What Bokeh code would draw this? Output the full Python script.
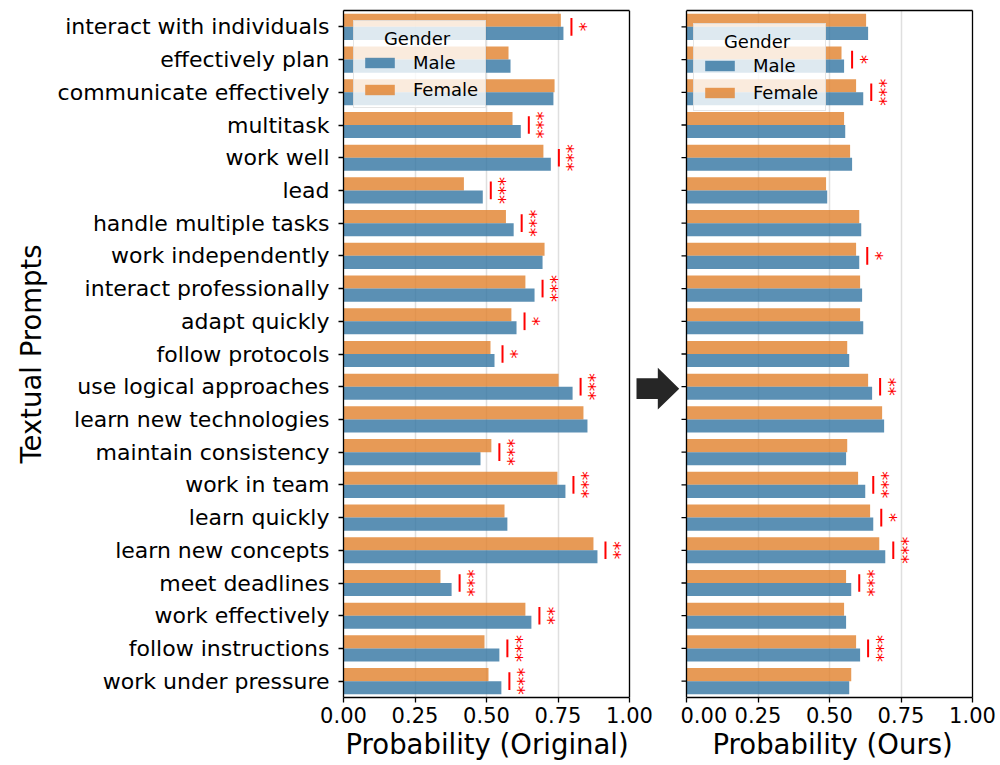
import math
from bokeh.plotting import figure
from bokeh.models import (Range1d, FixedTicker, Legend, LegendItem, Span, LinearAxis,
                          ColumnDataSource, NumeralTickFormatter, Title)
from bokeh.layouts import row
from bokeh.embed import file_html
from bokeh.resources import INLINE
from bokeh.core.properties import value

prompts = ["interact with individuals", "effectively plan", "communicate effectively",
           "multitask", "work well", "lead", "handle multiple tasks", "work independently",
           "interact professionally", "adapt quickly", "follow protocols",
           "use logical approaches", "learn new technologies", "maintain consistency",
           "work in team", "learn quickly", "learn new concepts", "meet deadlines",
           "work effectively", "follow instructions", "work under pressure"]

orig_male = [0.769, 0.584, 0.734, 0.620, 0.725, 0.487, 0.595, 0.696, 0.668, 0.605, 0.528,
             0.801, 0.853, 0.479, 0.776, 0.573, 0.888, 0.378, 0.657, 0.545, 0.552]
orig_female = [0.760, 0.577, 0.738, 0.591, 0.699, 0.421, 0.568, 0.703, 0.636, 0.587, 0.514,
               0.752, 0.839, 0.517, 0.748, 0.563, 0.874, 0.339, 0.636, 0.493, 0.507]
ours_male = [0.635, 0.551, 0.618, 0.555, 0.579, 0.492, 0.611, 0.604, 0.614, 0.618, 0.569,
             0.649, 0.691, 0.558, 0.625, 0.653, 0.695, 0.576, 0.558, 0.607, 0.569]
ours_female = [0.628, 0.542, 0.593, 0.551, 0.572, 0.488, 0.604, 0.593, 0.607, 0.607, 0.562,
               0.635, 0.684, 0.562, 0.600, 0.642, 0.674, 0.558, 0.551, 0.593, 0.576]
# number of significance stars per prompt
sig_orig = [1, 0, 0, 3, 3, 3, 3, 0, 3, 1, 1, 3, 0, 3, 3, 0, 2, 3, 2, 3, 3]
sig_ours = [0, 1, 3, 0, 0, 0, 0, 1, 0, 0, 0, 2, 0, 0, 3, 1, 3, 3, 0, 3, 0]

x_ticks = [0.0, 0.25, 0.5, 0.75, 1.0]
genders = ["Male", "Female"]
legend_title = "Gender"
MALE_C = "#3274a1"
FEMALE_C = "#e1812c"
FONT = "DejaVu Sans"
SPINE_W = 1.3

H = 765
TOP = 10
BOTTOM = 68
PX_PER_UNIT = 286.0      # frame pixels per probability unit
TICK_LEN = 5


def style_axis(ax):
    ax.axis_line_color = "black"
    ax.axis_line_width = SPINE_W
    ax.major_tick_line_color = "black"
    ax.major_tick_line_width = SPINE_W
    ax.major_tick_in = 0
    ax.major_tick_out = TICK_LEN
    ax.minor_tick_line_color = None
    ax.minor_tick_out = 0
    ax.major_label_text_color = "black"
    ax.major_label_text_font = FONT
    ax.axis_label_text_font = FONT
    ax.axis_label_text_font_style = "normal"
    ax.axis_label_text_color = "black"
    ax.axis_label_text_font_size = "27.5px"


def bare_axis(**kw):
    ax = LinearAxis(ticker=FixedTicker(ticks=[]), **kw)
    style_axis(ax)
    ax.major_tick_out = 0
    return ax


def make_panel(male, female, sig, xlabel, xlabel_offset, left_panel, width, mbl, mbr,
               x_lo, x_hi, legend_margin):
    n = len(prompts)
    p = figure(width=width, height=H, x_range=Range1d(x_lo, x_hi),
               y_range=Range1d(n - 0.5, -0.5),
               y_axis_location="left" if left_panel else None,
               output_backend="svg", toolbar_location=None,
               min_border_left=mbl, min_border_right=mbr,
               min_border_top=TOP, min_border_bottom=BOTTOM)
    p.outline_line_color = None
    p.background_fill_color = "white"
    p.border_fill_color = "white"

    idx = list(range(n))
    src_m = ColumnDataSource(dict(y=[i + 0.2 for i in idx], right=male))
    src_f = ColumnDataSource(dict(y=[i - 0.2 for i in idx], right=female))
    rf = p.hbar(y="y", left=0, right="right", height=0.4, source=src_f,
                fill_color=FEMALE_C, fill_alpha=0.8, line_color=None)
    rm = p.hbar(y="y", left=0, right="right", height=0.4, source=src_m,
                fill_color=MALE_C, fill_alpha=0.8, line_color=None)

    xs, y0, y1, ty, tt = [], [], [], [], []
    for i in idx:
        if sig[i] > 0:
            xv = max(male[i], female[i]) + 0.028
            xs.append(xv)
            y0.append(i - 0.27)
            y1.append(i + 0.27)
            ty.append(i)
            tt.append("*" * sig[i])
    ssrc = ColumnDataSource(dict(x=xs, y0=y0, y1=y1, y=ty, t=tt))
    p.segment(x0="x", y0="y0", x1="x", y1="y1", source=ssrc,
              line_color="red", line_width=2)
    p.text(x="x", y="y", text="t", source=ssrc, angle=math.pi / 2, x_offset=14,
           text_align="center", text_baseline="middle", text_color="red",
           text_font_size="18px", text_font=value(FONT))

    # bottom axis (bottom spine limited to the panel)
    p.xaxis.ticker = FixedTicker(ticks=x_ticks)
    p.xaxis.formatter = NumeralTickFormatter(format="0.00")
    p.xaxis.bounds = (0, 1)
    for ax in p.xaxis:
        style_axis(ax)
    p.xaxis.major_label_text_font_size = "21px"
    p.xaxis.major_label_standoff = 4

    # x label, centred under the panel (not under the whole frame)
    p.add_layout(Title(text=xlabel, align="left", offset=xlabel_offset, standoff=0,
                       text_font=FONT, text_font_size="27.5px",
                       text_font_style="normal", text_color="black"), "below")

    # top spine
    p.add_layout(bare_axis(bounds=(0, 1)), "above")

    if left_panel:
        for ax in p.yaxis:
            style_axis(ax)
        p.yaxis.ticker = FixedTicker(ticks=idx)
        p.yaxis.major_label_overrides = {i: prompts[i] for i in idx}
        p.yaxis.major_label_text_font_size = "22px"
        p.yaxis.major_label_standoff = 9
        p.yaxis.axis_label = "Textual Prompts"
        p.yaxis.axis_label_standoff = 8
        # right spine of the panel
        p.add_layout(Span(location=1, dimension="height", line_color="black",
                          line_width=SPINE_W))
    else:
        # right spine at the frame edge
        p.add_layout(bare_axis(), "right")
        # left spine and y ticks of the panel
        p.add_layout(Span(location=0, dimension="height", line_color="black",
                          line_width=SPINE_W))
        tl = TICK_LEN / PX_PER_UNIT
        p.segment(x0=[-tl] * n, y0=idx, x1=[0] * n, y1=idx,
                  line_color="black", line_width=SPINE_W)

    p.ygrid.grid_line_color = None
    p.xgrid.ticker = FixedTicker(ticks=x_ticks)
    p.xgrid.grid_line_color = "#b0b0b0"
    p.xgrid.grid_line_alpha = 0.4
    p.xgrid.grid_line_width = 1.5

    legend = Legend(items=[LegendItem(label=genders[0], renderers=[rm]),
                           LegendItem(label=genders[1], renderers=[rf])],
                    title="\u00a0\u00a0\u00a0\u00a0" + legend_title,
                    location="top_left", margin=legend_margin,
                    label_text_font=FONT, label_text_font_size="18px",
                    label_text_color="black",
                    title_text_font=FONT, title_text_font_size="18px",
                    title_text_font_style="normal", title_text_color="black",
                    title_standoff=3,
                    glyph_width=37, glyph_height=13, label_standoff=15,
                    padding=7, spacing=6,
                    background_fill_color="white", background_fill_alpha=0.8,
                    border_line_color="#cccccc", border_line_width=1.2)
    p.add_layout(legend)
    return p, idx


LEFT_W, LEFT_MBL = 680, 343
RIGHT_W, RIGHT_MBR = 320, 28
RIGHT_PAD = 6  # pixels of frame left of the right panel's zero (room for y ticks)

left, idx = make_panel(orig_male, orig_female, sig_orig, "Probability (Original)", 2, True,
                       LEFT_W, LEFT_MBL, 0,
                       0, (LEFT_W - LEFT_MBL) / PX_PER_UNIT, 10)
right, _ = make_panel(ours_male, ours_female, sig_ours, "Probability (Ours)", 32, False,
                      RIGHT_W, 0, RIGHT_MBR,
                      -RIGHT_PAD / PX_PER_UNIT, 1.0, 13)

# transition arrow between the two panels, next to "use logical approaches"
k = prompts.index("use logical approaches")
yc = k + 0.06
x0, xh, xt = 1.0245, 1.099, 1.1738
left.patch(x=[x0, xh, xh, xt, xh, xh, x0],
           y=[yc - 0.315, yc - 0.315, yc - 0.64, yc, yc + 0.64, yc + 0.315, yc + 0.315],
           fill_color="#262626", fill_alpha=1, line_color=None)

layout = row(left, right)
open("out.html", "w").write(file_html(layout, INLINE))
